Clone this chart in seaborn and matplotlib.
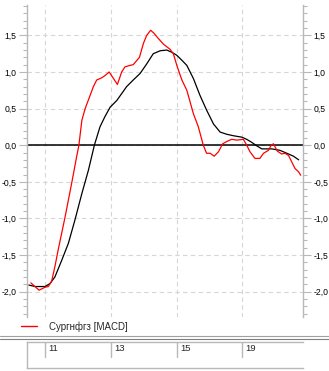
import numpy as np
import pandas as pd
import matplotlib
matplotlib.use('Agg')
import matplotlib.pyplot as plt
import seaborn as sns
from matplotlib.lines import Line2D
from matplotlib.ticker import MultipleLocator, FuncFormatter

# Данные: позиция по оси X в торговых днях (0 = "11"), значения MACD и сигнальной линии
macd_t = [-0.43, -0.18, 0.0, 0.10, 0.20, 0.30, 0.40, 0.61, 0.81, 0.96, 1.03, 1.12, 1.22,
          1.37, 1.47, 1.57, 1.72, 1.82, 1.95, 2.20, 2.33, 2.43, 2.58, 2.68, 2.87, 2.99,
          3.09, 3.21, 3.31, 3.44, 3.60, 3.80, 3.90, 4.02, 4.16, 4.31, 4.41, 4.51, 4.66,
          4.81, 4.91, 5.02, 5.14, 5.27, 5.40, 5.52, 5.67, 5.83, 6.03, 6.13, 6.23, 6.38,
          6.53, 6.64, 6.79, 6.86, 6.94, 7.06, 7.19, 7.29, 7.40, 7.50, 7.60, 7.70, 7.77]
macd_v = [-1.88, -1.98, -1.94, -1.93, -1.86, -1.66, -1.43, -0.98, -0.52, -0.16, 0.0, 0.34, 0.50,
          0.68, 0.80, 0.89, 0.92, 0.95, 1.00, 0.83, 1.00, 1.07, 1.09, 1.10, 1.20, 1.39,
          1.50, 1.57, 1.53, 1.46, 1.38, 1.31, 1.25, 1.07, 0.89, 0.75, 0.59, 0.43, 0.25,
          0.0, -0.11, -0.11, -0.15, -0.09, 0.02, 0.05, 0.08, 0.07, 0.08, 0.0, -0.09, -0.18,
          -0.18, -0.11, -0.07, -0.01, 0.02, -0.08, -0.12, -0.11, -0.14, -0.23, -0.32, -0.36, -0.41]

signal_t = [-0.49, -0.30, 0.0, 0.15, 0.30, 0.51, 0.71, 0.91, 1.12, 1.32, 1.50, 1.67, 1.82,
            1.98, 2.18, 2.48, 2.68, 2.89, 3.09, 3.29, 3.50, 3.70, 3.85, 4.00, 4.16, 4.31,
            4.51, 4.71, 4.91, 5.12, 5.32, 5.52, 5.72, 5.98, 6.13, 6.28, 6.44, 6.59, 6.89,
            7.14, 7.35, 7.55, 7.71]
signal_v = [-1.91, -1.93, -1.93, -1.89, -1.80, -1.57, -1.34, -1.02, -0.66, -0.34, 0.0, 0.25, 0.39,
            0.52, 0.61, 0.80, 0.89, 0.98, 1.11, 1.25, 1.29, 1.30, 1.27, 1.23, 1.16, 1.09,
            0.91, 0.68, 0.48, 0.29, 0.18, 0.15, 0.13, 0.11, 0.08, 0.04, -0.01, -0.05, -0.05,
            -0.07, -0.11, -0.15, -0.20]

date_pos = [0, 2, 4, 6]
date_labels = ['11', '13', '15', '19']
legend_label = 'Сургнфгз [MACD]'

sns.set_style('white')
plt.rcParams['font.family'] = ['Liberation Sans', 'DejaVu Sans']

W, H = 329, 371
fig = plt.figure(figsize=(W / 100, H / 100), dpi=100)

x0, x1 = 27, 303
ax = fig.add_axes([x0 / W, (H - 316.7) / H, (x1 - x0) / W, (316.7 - 5) / H])

df_macd = pd.DataFrame({'t': macd_t, 'v': macd_v})
df_sig = pd.DataFrame({'t': signal_t, 'v': signal_v})

ax.axhline(0, color='black', lw=1.1, zorder=2)
sns.lineplot(data=df_sig, x='t', y='v', ax=ax, color='black', lw=0.9, sort=False, zorder=3)
sns.lineplot(data=df_macd, x='t', y='v', ax=ax, color='#ff0000', lw=0.9, sort=False, zorder=4)

ax.set_xlim(-0.547, 7.84)
ax.set_ylim(-2.342, 1.915)
ax.set_xlabel('')
ax.set_ylabel('')

grey = '#b8b8b8'
for s in ['top', 'bottom']:
    ax.spines[s].set_visible(False)
for s in ['left', 'right']:
    ax.spines[s].set_color(grey)
    ax.spines[s].set_linewidth(1.0)

ax.set_xticks(date_pos)
ax.xaxis.set_tick_params(length=0, labelbottom=False)
ax.yaxis.set_major_locator(MultipleLocator(0.5))
ax.yaxis.set_minor_locator(MultipleLocator(0.1))
ax.yaxis.set_major_formatter(FuncFormatter(lambda v, p: f'{v:.1f}'.replace('.', ',')))
ax.tick_params(axis='y', which='both', left=True, right=True, labelleft=True, labelright=True,
               colors=grey, labelcolor='black', labelsize=6.2, direction='out', width=0.8)
ax.tick_params(axis='y', which='major', length=6, pad=1.5)
ax.tick_params(axis='y', which='minor', length=3)
ax.grid(True, which='major', axis='both', color='#d6d6d6', ls=(0, (4, 3)), lw=0.8)
ax.set_axisbelow(True)

legend_handle = Line2D([], [], color='#ff0000', lw=1.0)
fig.legend([legend_handle], [legend_label], loc='center left',
           bbox_to_anchor=(21 / W, 1 - 326.5 / H), frameon=False, fontsize=7.0,
           handlelength=1.6, handletextpad=1.3, borderpad=0, borderaxespad=0)

# двойная разделительная линия
fig.add_artist(Line2D([0, 1], [1 - 336 / H, 1 - 336 / H], transform=fig.transFigure, color='#a0a0a0', lw=0.8))
fig.add_artist(Line2D([0, 1], [1 - 338.6 / H, 1 - 338.6 / H], transform=fig.transFigure, color='#808080', lw=0.8))

# полоса с датами
axd = fig.add_axes([x0 / W, (H - 368.3) / H, (x1 - x0) / W, (368.3 - 342.3) / H])
axd.set_xlim(ax.get_xlim())
axd.set_ylim(0, 1)
axd.set_xticks([])
axd.set_yticks([])
axd.set_facecolor('white')
for s in ['top', 'bottom', 'left']:
    axd.spines[s].set_color(grey)
    axd.spines[s].set_linewidth(1.0)
axd.spines['right'].set_visible(False)
for p, lab in zip(date_pos, date_labels):
    axd.axvline(p, ymin=0.42, ymax=1, color=grey, lw=1.0)
    axd.text(p + 0.1, 0.78, lab, fontsize=6.8, va='center', ha='left')

fig.savefig('out.png', dpi=100)
